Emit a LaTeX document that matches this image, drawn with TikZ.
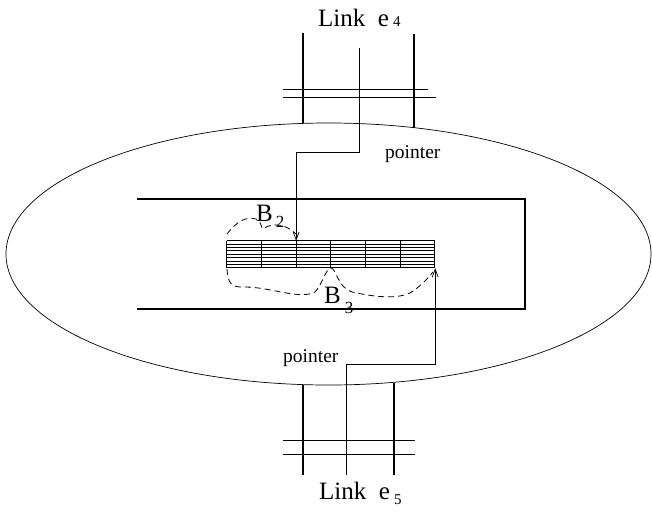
\documentclass[tikz,border=0pt]{standalone}
\usepackage{fontspec}
\setmainfont{Liberation Serif}
\usetikzlibrary{arrows.meta,calc}
\tikzset{
  thinline/.style={line width=0.7pt},
  medline/.style={line width=1.1pt},
  gridline/.style={line width=1.0pt},
  boxline/.style={line width=1.4pt},
  dashcurve/.style={line width=0.8pt, dash pattern=on 6pt off 4pt},
  ptr/.style={line width=0.7pt, -{Straight Barb[length=8pt,width=6pt]}},
  lbl/.style={inner sep=0pt, font=\fontsize{25}{25}\selectfont},
  ptrlbl/.style={inner sep=0pt, anchor=base west, font=\fontsize{19.5}{19.5}\selectfont},
  blbl/.style={inner sep=0pt, font=\fontsize{25}{25}\selectfont},
  sublbl/.style={inner sep=0pt, font=\fontsize{17}{17}\selectfont},
}
\begin{document}
\begin{tikzpicture}[x=1pt,y=-1pt]
\useasboundingbox (0,0) rectangle (652,511);
% ellipse
\draw[thinline] (328.5,254) ellipse [x radius=322.5, y radius=131];
% inner box (open on the left)
\draw[boxline] (137,199) -- (525,199) -- (525,309) -- (137,309);
% grid
\node[draw=none, minimum width=208pt, minimum height=27pt, inner sep=0pt] (grid) at (331,254.5) {};
\foreach \i in {0,...,8} {
  \draw[gridline] ($(grid.north west)+(0,{\i*27/8})$) -- ($(grid.north east)+(0,{\i*27/8})$);
}
\foreach \i in {0,...,6} {
  \draw[thinline] ($(grid.north west)+({\i*208/6},0)$) -- ($(grid.south west)+({\i*208/6},0)$);
}
% top link
\draw[medline] (303,33) -- (303,123.4);
\draw[medline] (414,34) -- (414,127.7);
\draw[thinline] (283,89) -- (428,89);
\draw[thinline] (283,97) -- (436,97);
% bottom link
\draw[medline] (303,384.6) -- (303,475);
\draw[medline] (394,382.5) -- (394,475);
\draw[thinline] (283,440) -- (415,440);
\draw[thinline] (283,454) -- (415,454);
% pointers
\coordinate (p4) at (359,48);
\coordinate (t4) at ($(grid.north west)+({2*208/6},0)$);
\draw[ptr] (p4) -- (359,152) -| (t4);
\coordinate (p5) at (346,475);
\coordinate (t5) at (grid.south east);
\draw[ptr] (p5) -- (346,364) -| (t5);
% labels
\node[lbl, anchor=base west] (l4) at (318,27) {Link~~e\,\raisebox{0pt}{\fontsize{15}{15}\selectfont 4}};
\node[lbl, anchor=base west] (l5) at (319,499) {Link~~e\,\raisebox{-5pt}{\fontsize{15}{15}\selectfont 5}};
\node[ptrlbl] (pt4) at (385,158) {pointer};
\node[ptrlbl] (pt5) at (283,362) {pointer};
% B2
\node[blbl] (b2) at (264.5,213) {B};
\node[sublbl] (b2s) at (280,222) {2};
\draw[dashcurve] (227,234) .. controls (236,222) and (246,216) .. (256,219)
  .. controls (262,221) and (261,229) .. (263,229)
  .. controls (272,222) and (286,224) .. (296,234);
% B3
\node[blbl] (b3) at (332.5,295.5) {B};
\node[sublbl] (b3s) at (349,308) {3};
\draw[dashcurve] (227,269) .. controls (228,282) and (230,288) .. (245,287)
  .. controls (270,287) and (300,300) .. (315,292)
  .. controls (322,285) and (326,268) .. (331,268)
  .. controls (336,268) and (338,288) .. (352,292)
  .. controls (370,296) and (395,300) .. (410,293)
  .. controls (420,287) and (428,278) .. (433,272);
\end{tikzpicture}
\end{document}
